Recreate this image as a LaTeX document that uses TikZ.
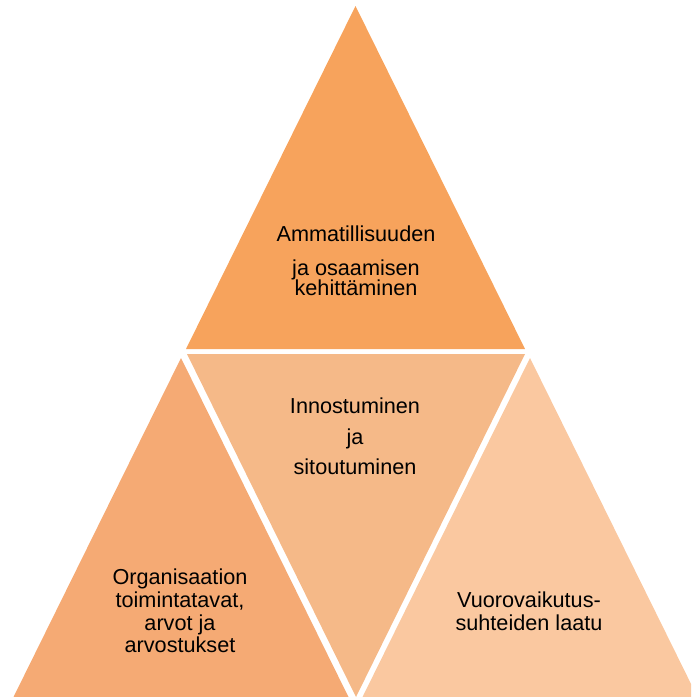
\documentclass[tikz,border=0pt]{standalone}
\usepackage{fontspec}
\setmainfont{Liberation Sans}
\usepackage{xcolor}
\usetikzlibrary{positioning,calc}
\definecolor{triTop}{HTML}{F7A35C}
\definecolor{triMid}{HTML}{F5B988}
\definecolor{triLeft}{HTML}{F5AA74}
\definecolor{triRight}{HTML}{FAC8A0}
\tikzset{
  tri/.style  = {draw=none},
  lbl/.style  = {align=center, inner sep=0pt, text=black,
                 font=\fontsize{15.4}{16.2}\selectfont},
}

\begin{document}
\begin{tikzpicture}[x=0.025cm, y=-0.025cm]
  \useasboundingbox (0,0) rectangle (691,697);
  \clip (0,0) rectangle (691,697);
  % four triangles, white gaps between them
  \fill[tri, triTop]   (355.5,6)   -- (525,349) -- (186,349) -- cycle;
  \fill[tri, triMid]   (187,354)   -- (525,354) -- (356,697) -- cycle;
  \fill[tri, triLeft]  (181,358)   -- (348.5,697) -- (13.5,697) -- cycle;
  \fill[tri, triRight] (530,358)   -- (697.5,697) -- (362.5,697) -- cycle;
  % labels
  \node[lbl] (top) at (356,260.5) {Ammatillisuuden\\[8pt] ja osaamisen\\[-2pt] kehittäminen};
  \node[lbl] (mid) at (355,436.5) {Innostuminen\\[5.6pt] ja\\[5.6pt] sitoutuminen};
  \node[lbl] (org) at (180,611) {Organisaation\\ toimintatavat,\\ arvot ja\\ arvostukset};
  \node[lbl] (vuo) at (529,611) {Vuorovaikutus-\\ suhteiden laatu};
\end{tikzpicture}
\end{document}
